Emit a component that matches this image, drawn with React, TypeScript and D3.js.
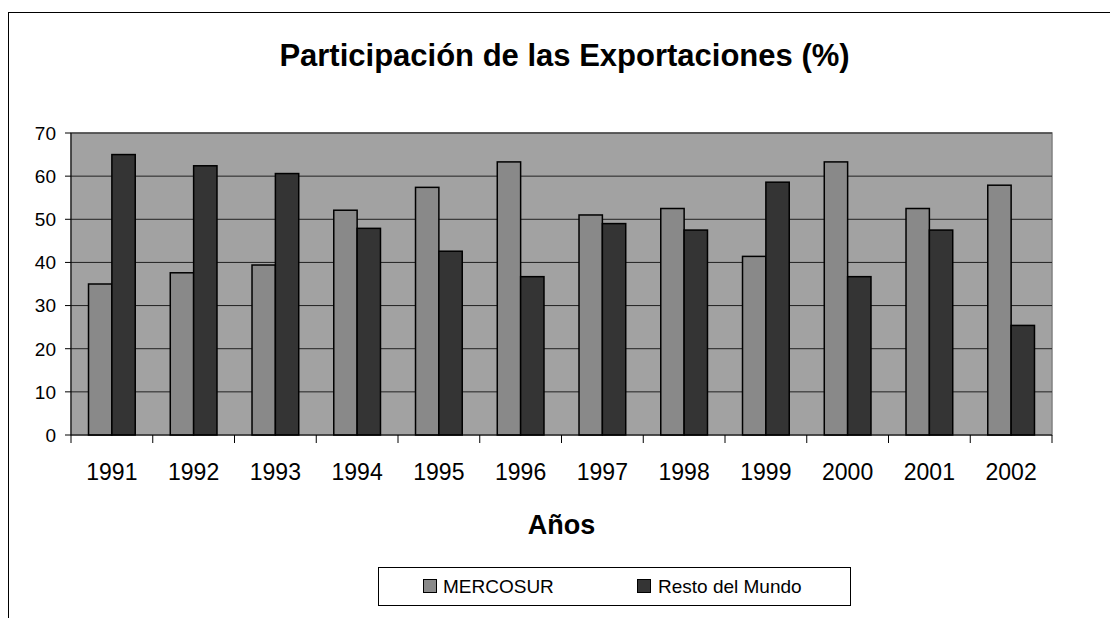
import React from "react";
import * as d3 from "d3";

const years = ["1991","1992","1993","1994","1995","1996","1997","1998","1999","2000","2001","2002"];
const mercosur = [35.0, 37.6, 39.4, 52.1, 57.4, 63.3, 51.0, 52.5, 41.4, 63.3, 52.5, 57.9];
const restoMundo = [65.0, 62.4, 60.6, 47.9, 42.6, 36.7, 49.0, 47.5, 58.6, 36.7, 47.5, 25.4];
const yTicks = [0, 10, 20, 30, 40, 50, 60, 70];
const seriesNames = ["MERCOSUR", "Resto del Mundo"];
const seriesColors = ["#898989", "#343434"];

export default function App() {
  const W = 1110, H = 618;
  const left = 71, right = 1052, top = 133, bottom = 435;
  const x = d3.scaleBand<string>().domain(years).range([left, right]).paddingInner(0).paddingOuter(0);
  const y = d3.scaleLinear().domain([0, 70]).range([bottom, top]);
  const bw = x.bandwidth() / 3.5;
  const font = "Arial, 'Liberation Sans', Helvetica, sans-serif";
  const series = [mercosur, restoMundo];
  return (
    <svg width={W} height={H} style={{ position: "absolute", left: 0, top: 0 }} fontFamily={font}>
      <rect x={0} y={0} width={W} height={H} fill="#fff" />
      <rect x={8.5} y={12.5} width={1200} height={800} fill="none" stroke="#000" strokeWidth={1} />
      <text x={564.5} y={66} textAnchor="middle" fontSize={31} fontWeight="bold">Participación de las Exportaciones (%)</text>
      <rect x={left} y={top} width={right - left} height={bottom - top} fill="#a2a2a2" stroke="#808080" strokeWidth={1.5} />
      {yTicks.filter(t => t > 0).map(t => (
        <line key={"g" + t} x1={left} x2={right} y1={y(t)} y2={y(t)} stroke="#222" strokeWidth={1} />
      ))}
      {years.map((yr, i) => (
        <g key={yr}>
          {series.map((s, j) => (
            <rect key={j}
              x={(x(yr) as number) + bw * 0.75 + j * bw}
              y={y(s[i])}
              width={bw}
              height={bottom - y(s[i])}
              fill={seriesColors[j]} stroke="#000" strokeWidth={1.5} />
          ))}
        </g>
      ))}
      <line x1={left} x2={left} y1={top} y2={bottom} stroke="#000" strokeWidth={1} />
      <line x1={left} x2={right} y1={bottom} y2={bottom} stroke="#000" strokeWidth={1} />
      {yTicks.map(t => (
        <g key={"y" + t}>
          <line x1={left - 6} x2={left} y1={y(t)} y2={y(t)} stroke="#000" />
          <text x={56} y={y(t)} dy="0.36em" textAnchor="end" fontSize={19}>{t}</text>
        </g>
      ))}
      {[...years.map(yr => x(yr) as number), right].map((px, i) => (
        <line key={"xt" + i} x1={px} x2={px} y1={bottom} y2={bottom + 8} stroke="#000" />
      ))}
      {years.map(yr => (
        <text key={"xl" + yr} x={(x(yr) as number) + x.bandwidth() / 2} y={480} textAnchor="middle" fontSize={23}>{yr}</text>
      ))}
      <text x={561.5} y={534} textAnchor="middle" fontSize={27} fontWeight="bold">Años</text>
      <rect x={378.5} y={567.5} width={472} height={38} fill="#fff" stroke="#000" strokeWidth={1} />
      {seriesNames.map((n, j) => (
        <g key={n}>
          <rect x={[423.5, 637.5][j]} y={579.5} width={13} height={13} fill={seriesColors[j]} stroke="#000" strokeWidth={1} />
          <text x={[443, 658][j]} y={593} fontSize={19}>{n}</text>
        </g>
      ))}
    </svg>
  );
}
